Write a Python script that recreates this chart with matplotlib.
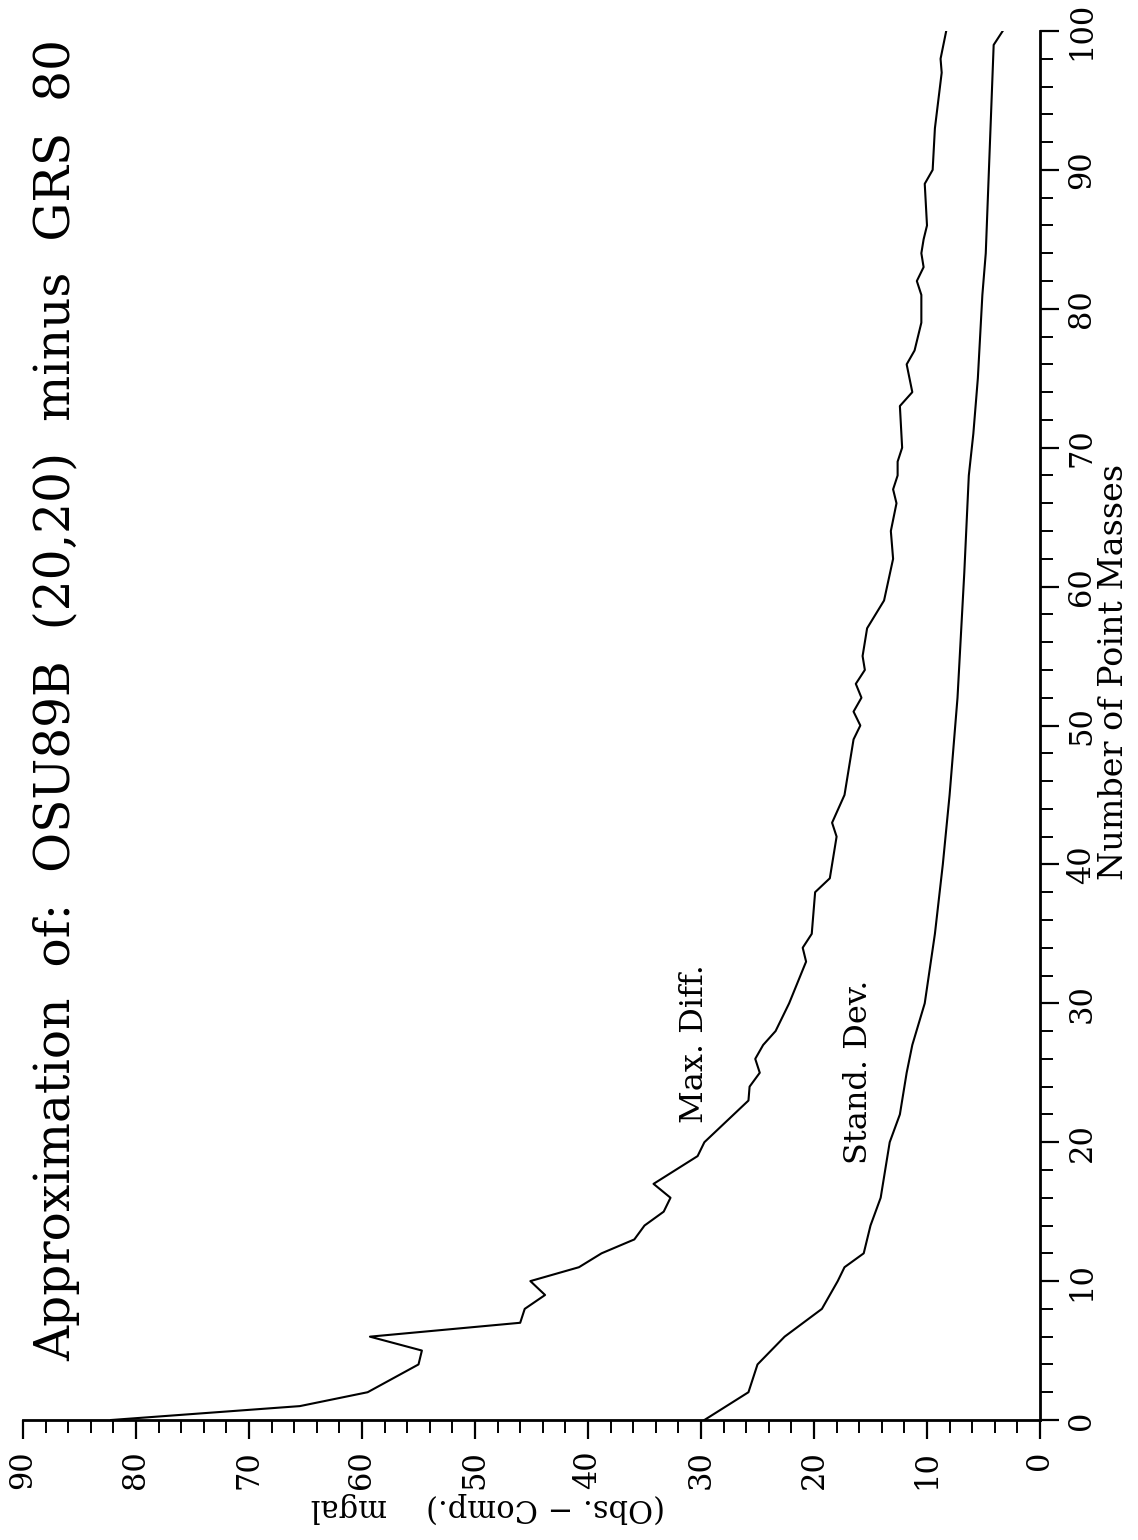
import numpy as np
import matplotlib
matplotlib.use("Agg")
import matplotlib.pyplot as plt
from matplotlib.ticker import MultipleLocator

# Number of point masses (vertical axis of the rotated page)
max_n = [0, 1, 2, 4, 5, 6, 7, 8, 9, 10, 11, 12, 13, 14, 15, 16, 17, 19, 20, 21,
         23, 24, 25, 26, 27, 28, 29, 30, 33, 34, 35, 38, 39, 42, 43, 45, 49, 50,
         51, 52, 53, 54, 55, 57, 59, 62, 64, 66, 67, 68, 69, 70, 73, 74, 76, 77,
         79, 81, 82, 83, 84, 85, 86, 89, 90, 93, 97, 98, 100]
# Max. Diff. in mgal
max_diff = [82.2, 65.5, 59.5, 55.0, 54.7, 59.3, 46.0, 45.6, 43.8, 45.1, 40.8,
            38.8, 35.9, 35.0, 33.3, 32.7, 34.2, 30.3, 29.7, 28.4, 25.8, 25.7,
            24.8, 25.2, 24.5, 23.4, 22.8, 22.2, 20.7, 21.0, 20.2, 19.9, 18.6,
            18.0, 18.4, 17.3, 16.5, 15.9, 16.5, 15.8, 16.3, 15.5, 15.7, 15.3,
            13.8, 13.0, 13.2, 12.7, 13.0, 12.6, 12.6, 12.2, 12.4, 11.3, 11.8,
            11.1, 10.5, 10.5, 10.9, 10.3, 10.5, 10.3, 10.0, 10.2, 9.5, 9.3,
            8.7, 8.8, 8.3]

std_n = [0, 2, 4, 6, 8, 10, 11, 12, 14, 16, 20, 22, 25, 27, 30, 35, 40, 45,
         52, 61, 68, 71, 75, 81, 84, 99, 100]
std_dev = [29.7, 25.8, 25.0, 22.6, 19.3, 17.9, 17.3, 15.6, 15.0, 14.1, 13.3,
           12.4, 11.8, 11.3, 10.2, 9.3, 8.6, 8.0, 7.3, 6.7, 6.3, 5.9, 5.5,
           5.1, 4.8, 4.1, 3.3]

TITLE = "Approximation  of:  OSU89B  (20,20)  minus  GRS  80"
FONT = "DejaVu Serif"

plt.rcParams["font.family"] = FONT

W, H = 1138, 1540
fig = plt.figure(figsize=(W / 100, H / 100), dpi=100)

# axes box in pixels: mgal 90 at x=23, mgal 0 at x=1040, n 0 at y=1420, n 100 at y=31
l, r, t, b = 23, 1040, 31, 1420
ax = fig.add_axes([l / W, 1 - b / H, (r - l) / W, (b - t) / H])

ax.plot(max_diff, max_n, color="black", lw=1.5)
ax.plot(std_dev, std_n, color="black", lw=1.5)

ax.set_xlim(90, 0)
ax.set_ylim(0, 100)
ax.spines["left"].set_visible(False)
ax.spines["top"].set_visible(False)
ax.spines["bottom"].set_linewidth(2)
ax.spines["right"].set_linewidth(2)
ax.yaxis.tick_right()

for axis in (ax.xaxis, ax.yaxis):
    axis.set_major_locator(MultipleLocator(10))
    axis.set_minor_locator(MultipleLocator(2))

ax.tick_params(which="major", direction="out", length=14, width=1.6, labelsize=22)
ax.tick_params(which="minor", direction="out", length=9, width=1.4)
ax.tick_params(axis="x", which="major", pad=8, labelrotation=90)
ax.tick_params(axis="y", which="major", pad=5, labelrotation=90)
for lab in ax.get_yticklabels():
    lab.set_va("center")

ax.text(30.6, 27.1, "Max. Diff.", rotation=90, ha="center", va="center", fontsize=23)
ax.text(16.1, 25.1, "Stand. Dev.", rotation=90, ha="center", va="center", fontsize=23)

fig.text(57 / W, 1 - 700 / H, TITLE, rotation=90, ha="center", va="center", fontsize=35)
fig.text(1114 / W, 1 - 672 / H, "Number of Point Masses", rotation=90,
         ha="center", va="center", fontsize=24)
fig.text(488 / W, 1 - 1508 / H, "(Obs. \u2212 Comp.)    mgal", rotation=180,
         ha="center", va="center", fontsize=22)

fig.savefig("out.png", dpi=100)
